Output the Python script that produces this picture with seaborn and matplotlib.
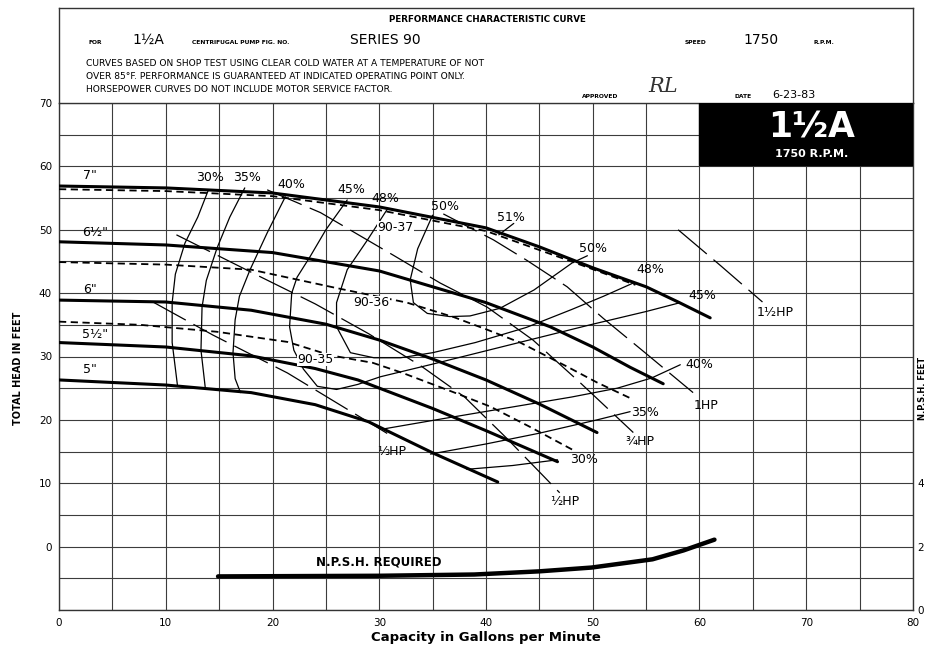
import matplotlib
matplotlib.use('Agg')
import matplotlib.pyplot as plt
import seaborn as sns
import numpy as np
from matplotlib.patches import Rectangle

# Config
W, H = 929, 652
OUT = 'out.png'

# Impeller head curves (capacity gpm, head ft)
imp7_q = [0, 10, 20, 30, 40, 45, 50, 55, 58, 61]
imp7_h = [56.9, 56.6, 55.8, 53.6, 50.3, 47.3, 44.0, 41.0, 38.6, 36.1]
imp65_q = [0, 10, 20, 30, 40, 46, 50, 53.5, 56.6]
imp65_h = [48.1, 47.6, 46.4, 43.5, 38.5, 34.7, 31.5, 28.3, 25.7]
imp6_q = [0, 10, 18, 25, 30, 35, 40, 45, 50.4]
imp6_h = [38.9, 38.6, 37.3, 35.1, 32.6, 29.6, 26.3, 22.5, 18.0]
imp55_q = [0, 10, 18, 24, 28, 35, 40, 46.7]
imp55_h = [32.2, 31.5, 30.1, 28.1, 26.3, 21.8, 18.3, 13.4]
imp5_q = [0, 10, 18, 24, 29, 35, 41.1]
imp5_h = [26.3, 25.5, 24.3, 22.4, 19.7, 14.8, 10.2]

# dashed trims 90-37 / 90-36 / 90-35
d37_q = [0, 10, 20, 30, 40, 48, 54]
d37_h = [56.4, 56.1, 55.3, 53.1, 49.8, 45.0, 41.3]
d36_q = [0, 10, 18, 26, 32.6, 37, 40, 43.2, 47.6, 50.4, 53.8]
d36_h = [44.9, 44.5, 43.7, 40.8, 38.5, 36.2, 34.3, 32.2, 28.4, 25.9, 23.2]
d35_q = [0, 7.6, 14.8, 21.4, 25.4, 29.4, 32.2, 36.9, 40.4, 44, 48.2]
d35_h = [35.5, 35.0, 33.9, 32.3, 30.2, 29.0, 27.4, 24.4, 22.1, 19.0, 15.2]

# efficiency contours
e30a_q = [14.0, 13.0, 11.8, 10.9, 10.6, 10.6, 11.1]
e30a_h = [56.3, 52.0, 47.9, 43.0, 38.5, 32.2, 25.4]
e30b_q = [38.2, 42.5, 46.7]
e30b_h = [12.2, 12.8, 13.7]
e35a_q = [17.4, 16.0, 14.8, 13.8, 13.4, 13.3, 13.7]
e35a_h = [56.6, 52.0, 47.1, 42.0, 37.8, 31.0, 25.1]
e35b_q = [34.8, 40, 45, 50.4, 53.5]
e35b_h = [14.6, 16.2, 17.9, 20.0, 21.3]
e40a_q = [21.2, 19.5, 17.9, 16.9, 16.5, 16.3, 16.5, 17.0]
e40a_h = [55.2, 49.5, 43.7, 39.5, 35.8, 30.6, 26.5, 24.3]
e40b_q = [30.5, 36, 42, 48, 52.3, 55.5, 58.2]
e40b_h = [18.6, 20.2, 21.9, 23.6, 25.0, 26.6, 28.7]
e45_q = [27.0, 25.0, 23.5, 22.3, 21.8, 21.6, 22.0, 22.9, 24.2, 26, 28, 30.1, 35, 40, 45, 50, 55, 58.2]
e45_h = [54.7, 50.0, 45.7, 42.5, 40.0, 34.7, 31.0, 28.0, 25.3, 24.8, 25.6, 26.8, 28.8, 30.9, 33.0, 35.1, 37.1, 38.5]
e48_q = [30.7, 28.9, 27.0, 26.0, 26.0, 27.3, 29.5, 32, 35, 39, 43.8, 48, 51, 53.8]
e48_h = [53.1, 48.4, 43.7, 38.5, 34.7, 30.6, 29.8, 29.8, 30.6, 32.2, 34.6, 37.4, 39.5, 41.6]
e50_q = [35.0, 33.6, 32.9, 33.2, 34.5, 36.6, 38.5, 41.3, 44.5, 48.1, 49.5]
e50_h = [52.3, 47.0, 42.1, 38.5, 36.8, 36.3, 36.4, 37.6, 40.5, 44.8, 45.9]
e51_q = [42.6, 41.2]
e51_h = [51.0, 49.2]

# brake horsepower lines
hp13_q = [8.8, 14.4, 21.4, 26.0, 31.0]
hp13_h = [38.6, 33.4, 27.4, 22.7, 17.6]
hp12_q = [11, 18, 24, 29, 34, 38, 42, 46.9]
hp12_h = [49.2, 43.3, 38.3, 33.6, 28.4, 23.6, 17.0, 8.5]
hp34_q = [19.5, 24.5, 31.3, 35.7, 40.1, 44.4, 48.8, 53.8]
hp34_h = [56.3, 52.7, 46.0, 41.6, 37.8, 32.6, 25.9, 18.0]
hp1_q = [36, 40.7, 43.8, 47.6, 51, 54.9, 59.4]
hp1_h = [52.5, 48.4, 45.2, 41.0, 36.0, 30.6, 24.3]
hp15_q = [58, 62, 65.9]
hp15_h = [50.0, 44.3, 38.6]

# NPSH required (plotted on head scale, npsh = (head + 10) / 5)
npsh_q = [14.9, 30, 38.9, 45, 49.9, 55.6, 58.5, 61.4]
npsh_h = [-4.7, -4.6, -4.4, -3.9, -3.3, -2.0, -0.6, 1.1]

# label text + positions
imp_labels = ['7"', '6½"', '6"', '5½"', '5"']
imp_lab_q = [2.9, 3.4, 2.9, 3.4, 2.9]
imp_lab_h = [58.6, 49.5, 40.5, 33.4, 27.9]
eff_labels = ['30%', '35%', '40%', '45%', '48%', '50%', '51%',
              '50%', '48%', '45%', '40%', '35%', '30%']
eff_lab_q = [14.1, 17.6, 21.8, 27.4, 30.6, 36.2, 42.3, 50.0, 55.4, 60.3, 60.0, 54.9, 49.2]
eff_lab_h = [58.2, 58.2, 57.1, 56.3, 55.0, 53.6, 51.9, 47.1, 43.7, 39.7, 28.7, 21.1, 13.7]
trim_labels = ['90-37', '90-36', '90-35']
trim_lab_q = [31.5, 29.3, 24.0]
trim_lab_h = [50.3, 38.5, 29.5]
hp_labels = ['⅓HP', '½HP', '¾HP', '1HP', '1½HP']
hp_lab_q = [31.2, 47.4, 54.4, 60.6, 67.1]
hp_lab_h = [15.0, 7.1, 16.6, 22.2, 37.0]


def curve(ax, q, h, lw=0.9, ls='-', z=3):
    sns.lineplot(x=q, y=h, ax=ax, sort=False, estimator=None, color='black',
                 lw=lw, linestyle=ls, zorder=z)


def main():
    sns.set_theme(style='white')
    plt.rcParams['font.family'] = ['DejaVu Sans']
    plt.rcParams['text.color'] = 'black'

    fig = plt.figure(figsize=(W / 100, H / 100), dpi=100)
    ax = fig.add_axes([59 / W, 1 - 610 / H, 854 / W, 507 / H])

    # grid
    ax.set_xlim(0, 80)
    ax.set_ylim(-10, 70)
    ax.set_xticks(np.arange(0, 81, 10))
    ax.set_xticks(np.arange(0, 81, 5), minor=True)
    ax.set_yticks(np.arange(0, 71, 10))
    ax.set_yticks(np.arange(-10, 71, 5), minor=True)
    ax.grid(which='both', color='#3c3c3c', lw=0.8)
    ax.set_axisbelow(True)
    ax.tick_params(which='both', length=0, labelsize=7.5, labelcolor='black')
    ax.tick_params(axis='x', pad=6)
    ax.tick_params(axis='y', pad=5)
    for s in ax.spines.values():
        s.set_color('#333')
        s.set_linewidth(1.0)

    # impeller curves
    for q, h in [(imp7_q, imp7_h), (imp65_q, imp65_h), (imp6_q, imp6_h),
                 (imp55_q, imp55_h), (imp5_q, imp5_h)]:
        curve(ax, q, h, lw=2.2, z=4)
    for q, h in [(d37_q, d37_h), (d36_q, d36_h), (d35_q, d35_h)]:
        curve(ax, q, h, lw=1.3, ls=(0, (4, 2.5)), z=4)

    # efficiency
    for q, h in [(e30a_q, e30a_h), (e30b_q, e30b_h), (e35a_q, e35a_h), (e35b_q, e35b_h),
                 (e40a_q, e40a_h), (e40b_q, e40b_h), (e45_q, e45_h), (e48_q, e48_h),
                 (e50_q, e50_h), (e51_q, e51_h)]:
        curve(ax, q, h, lw=0.9)

    # horsepower
    for q, h in [(hp13_q, hp13_h), (hp12_q, hp12_h), (hp34_q, hp34_h),
                 (hp1_q, hp1_h), (hp15_q, hp15_h)]:
        curve(ax, q, h, lw=0.9, ls=(0, (30, 7)))

    # NPSH
    curve(ax, npsh_q, npsh_h, lw=3.2, z=4)
    ax.text(30, -2.4, 'N.P.S.H. REQUIRED', fontsize=8.5, fontweight='bold',
            ha='center', va='center')

    for t, q, h in zip(imp_labels, imp_lab_q, imp_lab_h):
        ax.text(q, h, t, fontsize=9, ha='center', va='center')
    for t, q, h in zip(eff_labels, eff_lab_q, eff_lab_h):
        ax.text(q, h, t, fontsize=9, ha='center', va='center')
    for t, q, h in zip(trim_labels, trim_lab_q, trim_lab_h):
        ax.text(q, h, t, fontsize=9, ha='center', va='center',
                bbox=dict(fc='white', ec='none', pad=0.2), zorder=5)
    for t, q, h in zip(hp_labels, hp_lab_q, hp_lab_h):
        ax.text(q, h, t, fontsize=9, ha='center', va='center')

    # model box
    ax.add_patch(Rectangle((60, 60.2), 20, 9.8, fc='black', ec='black', zorder=6))
    ax.text(70.5, 66.2, '1½A', color='white', fontsize=25, fontweight='bold',
            ha='center', va='center', zorder=7)
    ax.text(70.5, 61.9, '1750 R.P.M.', color='white', fontsize=8, fontweight='bold',
            ha='center', va='center', zorder=7)

    ax.set_xlabel('Capacity in Gallons per Minute', fontsize=9.5, fontweight='bold',
                  labelpad=2, color='black')
    ax.set_ylabel('')
    fig.text(18 / W, 1 - 368 / H, 'TOTAL HEAD IN FEET', rotation=90, fontsize=7,
             fontweight='bold', ha='center', va='center')

    # right NPSH scale
    ax2 = ax.twinx()
    ax2.set_ylim(0, 16)
    ax2.set_yticks([0, 2, 4])
    ax2.grid(False)
    ax2.tick_params(length=0, labelsize=7.5, pad=3, labelcolor='black')
    for s in ax2.spines.values():
        s.set_visible(False)
    fig.text(923 / W, 1 - 388 / H, 'N.P.S.H. FEET', rotation=90, fontsize=6,
             fontweight='bold', ha='center', va='center')

    # header block
    hd = fig.add_axes([59 / W, 1 - 103 / H, 854 / W, 95 / H])
    hd.set_xlim(59, 913)
    hd.set_ylim(103, 8)
    hd.set_xticks([])
    hd.set_yticks([])
    hd.patch.set_alpha(0)
    for s in hd.spines.values():
        s.set_color('#333')
        s.set_linewidth(1.0)
    hd.spines['bottom'].set_visible(False)

    hd.text(487, 19, 'PERFORMANCE CHARACTERISTIC CURVE', fontsize=6.3, fontweight='bold',
            ha='center', va='center')
    small = dict(fontsize=4.3, fontweight='bold', va='center')
    hd.text(95, 42, 'FOR', ha='center', **small)
    hd.text(148, 40, '1½A', fontsize=10, ha='center', va='center')
    hd.text(192, 42, 'CENTRIFUGAL PUMP FIG. NO.', ha='left', **small)
    hd.text(350, 40, 'SERIES 90', fontsize=10, ha='left', va='center')
    hd.text(696, 42, 'SPEED', ha='center', **small)
    hd.text(761, 40, '1750', fontsize=10, ha='center', va='center')
    hd.text(824, 42, 'R.P.M.', ha='center', **small)
    notes = ['CURVES BASED ON SHOP TEST USING CLEAR COLD WATER AT A TEMPERATURE OF NOT',
             'OVER 85°F. PERFORMANCE IS GUARANTEED AT INDICATED OPERATING POINT ONLY.',
             'HORSEPOWER CURVES DO NOT INCLUDE MOTOR SERVICE FACTOR.']
    for i, line in enumerate(notes):
        hd.text(86, 63 + i * 13.5, line, fontsize=6.6, ha='left', va='center')
    hd.text(600, 97, 'APPROVED', ha='center', **small)
    hd.text(663, 86, 'RL', fontsize=15, fontstyle='italic', family='DejaVu Serif',
            ha='center', va='center', color='#333')
    hd.text(743, 97, 'DATE', ha='center', **small)
    hd.text(794, 95, '6-23-83', fontsize=8, ha='center', va='center')

    fig.savefig(OUT, dpi=100)
    plt.close(fig)


if __name__ == '__main__':
    main()
